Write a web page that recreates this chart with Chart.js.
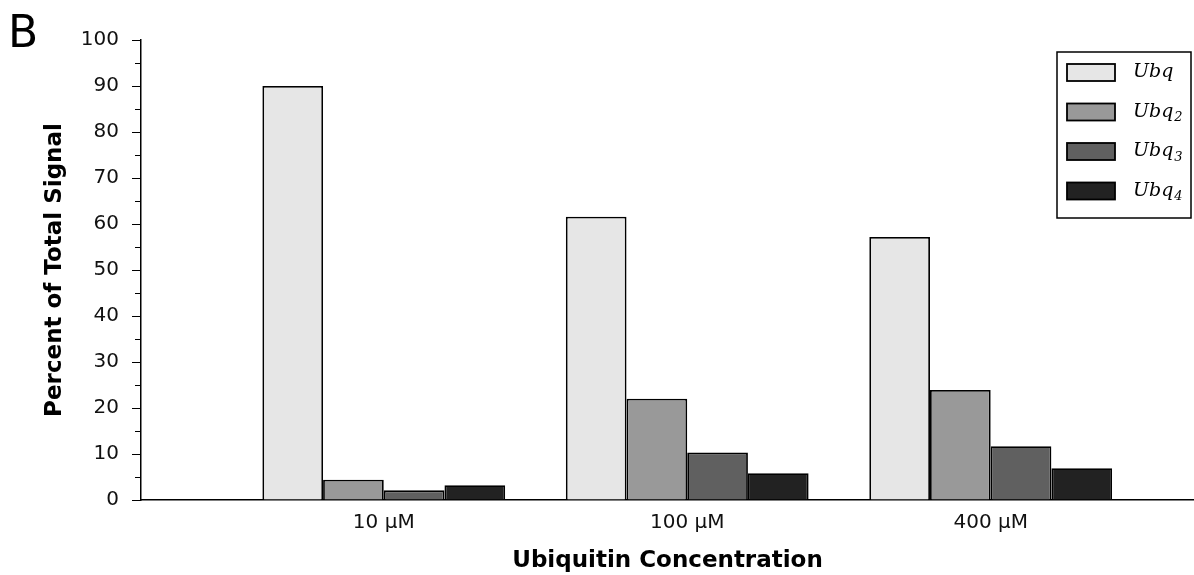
<!DOCTYPE html>
<html>
<head>
<meta charset="utf-8">
<script src="https://cdn.jsdelivr.net/npm/chart.js@4"></script>
<style>
  html, body { margin: 0; padding: 0; background: #fff; }
  #wrap { width: 1194px; height: 575px; position: relative; }
</style>
</head>
<body>
<div id="wrap"><canvas id="chart"></canvas></div>
<script>
// Data
const concentrations = ["10 \u03bcM", "100 \u03bcM", "400 \u03bcM"];
const seriesNames = ["Ubq", "Ubq", "Ubq", "Ubq"];
const seriesSubs  = ["", "2", "3", "4"];
const ubq1 = [90.0, 61.6, 57.2];
const ubq2 = [4.4, 22.0, 23.9];
const ubq3 = [2.1, 10.3, 11.7];
const ubq4 = [3.2, 5.8, 6.9];
const seriesColors = ["#e6e6e6", "#999999", "#606060", "#222222"];
const yTicks = [0, 10, 20, 30, 40, 50, 60, 70, 80, 90, 100];

const allSeries = [ubq1, ubq2, ubq3, ubq4];

const datasets = allSeries.map((vals, i) => ({
  label: seriesNames[i] + seriesSubs[i],
  data: vals.map((v, j) => ({ x: j, y: v })),
  backgroundColor: seriesColors[i],
  borderColor: "#000",
  borderWidth: 1.8,
  categoryPercentage: 0.8,
  barPercentage: 1.0
}));

// Minor y ticks, "B" panel label and in-plot legend
const extras = {
  id: "extras",
  afterDraw(chart) {
    const ctx = chart.ctx;
    const y = chart.scales.y;
    const area = chart.chartArea;
    ctx.save();
    // minor ticks halfway between the labelled ones
    ctx.strokeStyle = "#000";
    ctx.lineWidth = 1;
    for (let i = 0; i < yTicks.length - 1; i++) {
      const py = Math.round(y.getPixelForValue((yTicks[i] + yTicks[i + 1]) / 2)) + 0.5;
      ctx.beginPath();
      ctx.moveTo(area.left - 6, py);
      ctx.lineTo(area.left, py);
      ctx.stroke();
    }
    // panel letter
    ctx.fillStyle = "#000";
    ctx.font = "44px 'DejaVu Sans'";
    ctx.textBaseline = "alphabetic";
    ctx.textAlign = "left";
    ctx.fillText("B", 8, 47);

    // legend box
    const bx = area.right - 137, by = area.top + 12, bw = 134, bh = 166;
    ctx.fillStyle = "#fff";
    ctx.fillRect(bx, by, bw, bh);
    ctx.lineWidth = 1.5;
    ctx.strokeRect(bx, by, bw, bh);
    seriesNames.forEach((name, i) => {
      const cy = by + 20.5 + i * 39.5;
      ctx.fillStyle = seriesColors[i];
      ctx.fillRect(bx + 10, cy - 8.5, 48, 17);
      ctx.strokeStyle = "#000";
      ctx.lineWidth = 1.8;
      ctx.strokeRect(bx + 10, cy - 8.5, 48, 17);
      ctx.fillStyle = "#000";
      ctx.textBaseline = "middle";
      ctx.font = "italic 19px 'DejaVu Serif'";
      ctx.fillText(name, bx + 76, cy);
      if (seriesSubs[i]) {
        const w = ctx.measureText(name).width;
        ctx.font = "italic 13px 'DejaVu Serif'";
        ctx.fillText(seriesSubs[i], bx + 76 + w + 1, cy + 6);
      }
    });
    ctx.restore();
  }
};

new Chart(document.getElementById("chart"), {
  type: "bar",
  data: { datasets },
  options: {
    responsive: true,
    maintainAspectRatio: false,
    animation: false,
    layout: { padding: { top: 40, right: 0, left: 0, bottom: 0 } },
    plugins: { legend: { display: false }, tooltip: { enabled: false } },
    scales: {
      x: {
        type: "linear",
        offset: false,
        min: -0.8,
        max: 2.67,
        afterFit: s => { s.height = 75; },
        grid: { display: false, offset: false },
        border: { display: true, color: "#000", width: 1.5 },
        afterBuildTicks: s => { s.ticks = concentrations.map((c, i) => ({ value: i })); },
        ticks: {
          color: "#111",
          font: { family: "'DejaVu Sans'", size: 20 },
          padding: 3,
          callback: v => concentrations[v]
        },
        title: {
          display: true,
          text: "Ubiquitin Concentration",
          color: "#000",
          font: { family: "'DejaVu Sans'", size: 23, weight: "bold" },
          padding: { top: 7, bottom: 0 }
        }
      },
      y: {
        min: 0,
        max: 100,
        afterBuildTicks: s => { s.ticks = yTicks.map(v => ({ value: v })); },
        afterFit: s => { s.width = 141; },
        grid: { drawOnChartArea: false, drawTicks: true, tickLength: 9, color: "#000", lineWidth: 1 },
        border: { display: true, color: "#000", width: 1.5 },
        ticks: {
          color: "#111",
          font: { family: "'DejaVu Sans'", size: 20 },
          padding: 13
        },
        title: {
          display: true,
          text: "Percent of Total Signal",
          color: "#000",
          font: { family: "'DejaVu Sans'", size: 23, weight: "bold" },
          padding: { top: 41, bottom: 0 }
        }
      }
    }
  },
  plugins: [extras]
});
</script>
</body>
</html>
